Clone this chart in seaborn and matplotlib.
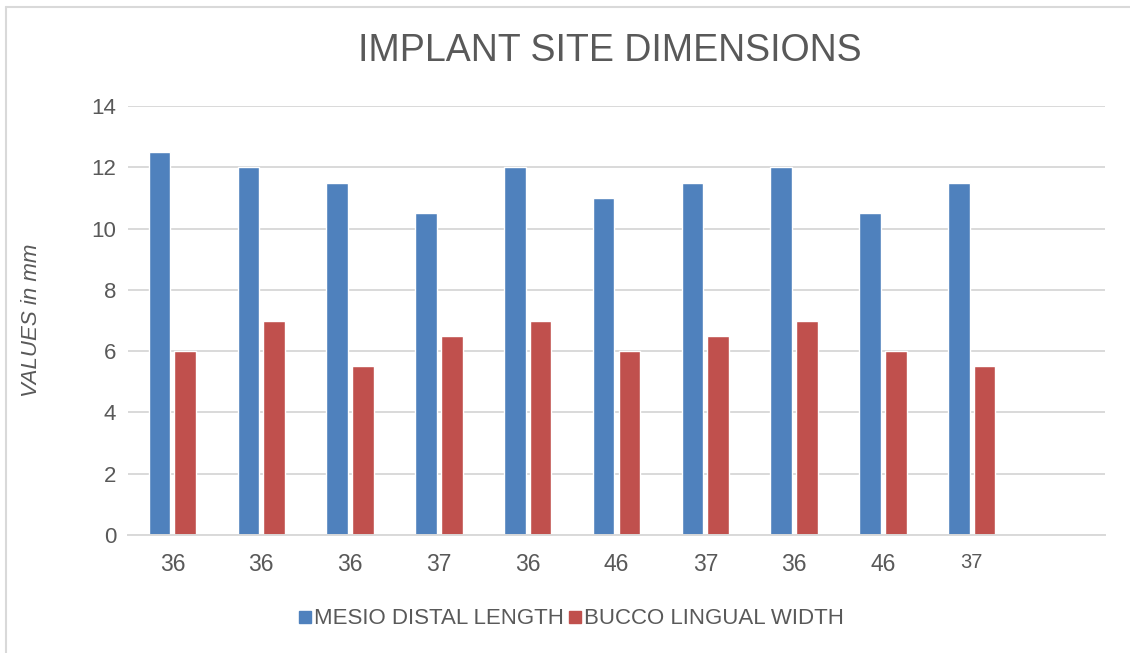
import matplotlib
matplotlib.use("Agg")
import matplotlib.pyplot as plt
from matplotlib.lines import Line2D
import seaborn as sns
import pandas as pd

# Tooth sites (labels repeat, so each case gets its own key)
site_labels = ["36", "36", "36", "37", "36", "46", "37", "36", "46", "37"]
mesio_distal = [12.5, 12, 11.5, 10.5, 12, 11, 11.5, 12, 10.5, 11.5]
bucco_lingual = [6, 7, 5.5, 6.5, 7, 6, 6.5, 7, 6, 5.5]
series_names = ["MESIO DISTAL LENGTH", "BUCCO LINGUAL WIDTH"]
series_colors = ["#4F81BD", "#C0504D"]
y_ticks = [0, 2, 4, 6, 8, 10, 12, 14]

case_keys = [f"case{i}" for i in range(len(site_labels))]
slot_keys = case_keys + ["spare"]  # trailing empty slot on the category axis

df = pd.DataFrame({
    "case": case_keys * 2,
    "series": [series_names[0]] * len(case_keys) + [series_names[1]] * len(case_keys),
    "value": mesio_distal + bucco_lingual,
})

sns.set_theme(style="white")
plt.rcParams["font.family"] = ["Liberation Sans", "DejaVu Sans"]
text_color = "#595959"
grid_color = "#D9D9D9"

fig = plt.figure(figsize=(11.3, 6.53), dpi=100)
ax = fig.add_axes([128 / 1130, 1 - 535 / 653, (1105 - 128) / 1130, (535 - 106) / 653])

sns.barplot(
    data=df, x="case", y="value", hue="series", order=slot_keys,
    hue_order=series_names, palette=series_colors, width=0.58, gap=0.16,
    saturation=1, ax=ax, legend=False, errorbar=None,
)

ax.set_xlim(-0.5, len(slot_keys) - 0.5)
ax.set_ylim(0, 14)
ax.set_yticks(y_ticks)
ax.set_yticklabels([str(t) for t in y_ticks], fontsize=16, color=text_color)
ax.set_xticks(range(len(slot_keys)))
ax.set_xticklabels(site_labels + [""], fontsize=16.5, color=text_color)
ax.get_xticklabels()[len(site_labels) - 1].set_fontsize(14.5)
ax.tick_params(axis="both", length=0)
ax.tick_params(axis="x", pad=13)
ax.tick_params(axis="y", pad=8.5)

ax.yaxis.grid(True, color=grid_color, linewidth=1.4)
ax.set_axisbelow(True)
for side in ["top", "right", "left"]:
    ax.spines[side].set_visible(False)
ax.spines["bottom"].set_color(grid_color)
ax.spines["bottom"].set_linewidth(1.4)

ax.set_xlabel("")
ax.set_ylabel("VALUES in mm", fontsize=16, color=text_color, style="italic")
ax.yaxis.set_label_coords(-86 / 977, 0.5)

fig.text(610 / 1130, 1 - 51 / 653, "IMPLANT SITE DIMENSIONS", ha="center", va="center",
         fontsize=27, color=text_color)

handles = [Line2D([0], [0], marker="s", linestyle="none", markersize=9,
                  markerfacecolor=c, markeredgecolor=c) for c in series_colors]
fig.legend(handles, series_names, loc="center", bbox_to_anchor=(571 / 1130, 1 - 619 / 653),
           ncol=2, frameon=False, fontsize=16, labelcolor=text_color,
           handlelength=0.6, handletextpad=0.1, columnspacing=0.2, borderpad=0)

# Chart-area border along the left and top edges
fig.add_artist(Line2D([6 / 1130, 6 / 1130], [0, 1 - 7 / 653], transform=fig.transFigure,
                      color="#D9D9D9", linewidth=1.5))
fig.add_artist(Line2D([6 / 1130, 1], [1 - 7 / 653, 1 - 7 / 653], transform=fig.transFigure,
                      color="#D9D9D9", linewidth=1.5))

fig.savefig("out.png", dpi=100, facecolor="white")
